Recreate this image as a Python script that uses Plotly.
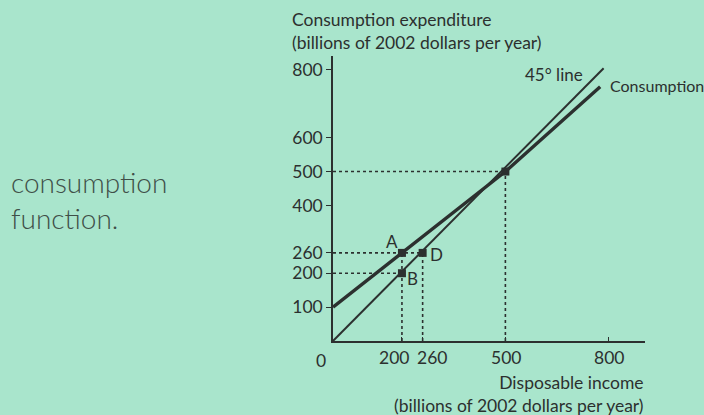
import plotly.graph_objects as go

# ---- data ----
income_45 = [0, 785]
line_45 = [0, 805]
cons_income = [0, 500, 775]
cons_spend = [100, 500, 750]

point_names = ["A", "B", "D", "E"]
point_x = [200, 200, 260, 500]
point_y = [260, 200, 260, 500]

y_tick_vals = [100, 200, 260, 400, 500, 600, 800]
y_tick_text = ["100", "200", "260", "400", "500", "600", "800"]
x_tick_vals = [200, 260, 500, 800]
x_tick_text = ["200", "260", "500", "800"]

BG = "#a9e5cc"
INK = "#2c302f"
FONT = "Lato"
FS = 17.5

# plot-area geometry (pixels)
L, R, T, B = 333, 645, 56, 341
W, H = R - L, B - T


def px(x):
    return (x - L) / W


def py(y):
    return (B - y) / H


fig = go.Figure()

# dotted guide lines from the points to the axes
gx, gy = [], []
for qx, qy in [(260, 260), (200, 200), (500, 500)]:
    gx += [0, qx, None]
    gy += [qy, qy, None]
for qx, qy in [(200, 260), (260, 260), (500, 500)]:
    gx += [qx, qx, None]
    gy += [0, qy, None]
fig.add_trace(go.Scatter(x=gx, y=gy, mode="lines",
                         line=dict(color=INK, width=1.6, dash="dot"),
                         hoverinfo="skip", showlegend=False))

fig.add_trace(go.Scatter(x=income_45, y=line_45, mode="lines",
                         line=dict(color=INK, width=2), showlegend=False))
fig.add_trace(go.Scatter(x=cons_income, y=cons_spend, mode="lines",
                         line=dict(color=INK, width=3.4), showlegend=False))
fig.add_trace(go.Scatter(x=point_x, y=point_y, mode="markers",
                         marker=dict(color=INK, size=8, symbol="square"),
                         showlegend=False, cliponaxis=False))

ann = []
# point labels
label_off = {"A": (-10, 11), "B": (11, -5), "D": (14, -2)}
for n, qx, qy in zip(point_names, point_x, point_y):
    if n in label_off:
        dx, dy = label_off[n]
        ann.append(dict(x=qx, y=qy, xref="x", yref="y", text=n, showarrow=False,
                        xshift=dx, yshift=dy, font=dict(size=17, color=INK)))

# x tick labels (placed individually because 200 and 260 are close)
x_shift = {"200": -8, "260": 9, "500": 1, "800": 0}
for v, t in zip(x_tick_vals, x_tick_text):
    ann.append(dict(x=v, y=0, xref="x", yref="y", text=t, showarrow=False,
                    yanchor="middle", yshift=-16, xshift=x_shift[t],
                    font=dict(size=FS, color=INK)))
ann.append(dict(x=0, y=0, xref="x", yref="y", text="0", showarrow=False,
                yanchor="middle", yshift=-19, xshift=-12,
                font=dict(size=FS, color=INK)))

# line labels
ann.append(dict(x=640, y=785, xref="x", yref="y", text="45° line", showarrow=False,
                font=dict(size=17, color=INK)))
ann.append(dict(x=797, y=755, xref="x", yref="y", text="Consumption", showarrow=False,
                xanchor="left", font=dict(size=16, color=INK)))

# axis titles
ann.append(dict(x=px(290), y=py(31), xref="paper", yref="paper",
                text="Consumption expenditure<br>(billions of 2002 dollars per year)",
                showarrow=False, align="left",
                xanchor="left", yanchor="middle", font=dict(size=FS, color=INK)))
ann.append(dict(x=px(646), y=py(394), xref="paper", yref="paper",
                text="Disposable income<br>(billions of 2002 dollars per year)",
                showarrow=False, align="right",
                xanchor="right", yanchor="middle", font=dict(size=FS, color=INK)))

# handwritten note
hand = dict(size=28, color="#3f4f48", family="Lato", weight=300)
ann.append(dict(x=px(9), y=py(200), xref="paper", yref="paper",
                text="consumption<br>function.",
                showarrow=False, align="left", xanchor="left", yanchor="middle",
                font=hand))

fig.update_layout(
    width=704, height=415,
    margin=dict(l=L, r=704 - R, t=T, b=415 - B),
    paper_bgcolor=BG, plot_bgcolor=BG,
    font=dict(family=FONT, color=INK, size=FS),
    annotations=ann,
    xaxis=dict(range=[0, 905], showgrid=False, zeroline=False,
               showline=True, linecolor=INK, linewidth=1.6,
               tickvals=x_tick_vals, showticklabels=False,
               ticks="inside", ticklen=4, tickcolor=INK),
    yaxis=dict(range=[0, 841], showgrid=False, zeroline=False,
               showline=True, linecolor=INK, linewidth=1.6,
               tickvals=y_tick_vals, ticktext=y_tick_text,
               ticks="outside", ticklen=5, tickcolor=INK,
               tickfont=dict(size=FS, color=INK)),
)

fig.write_html("out.html",
               config={"displayModeBar": False},
               post_script="document.body.style.margin='0';"
                           "document.body.style.background='" + BG + "';")
